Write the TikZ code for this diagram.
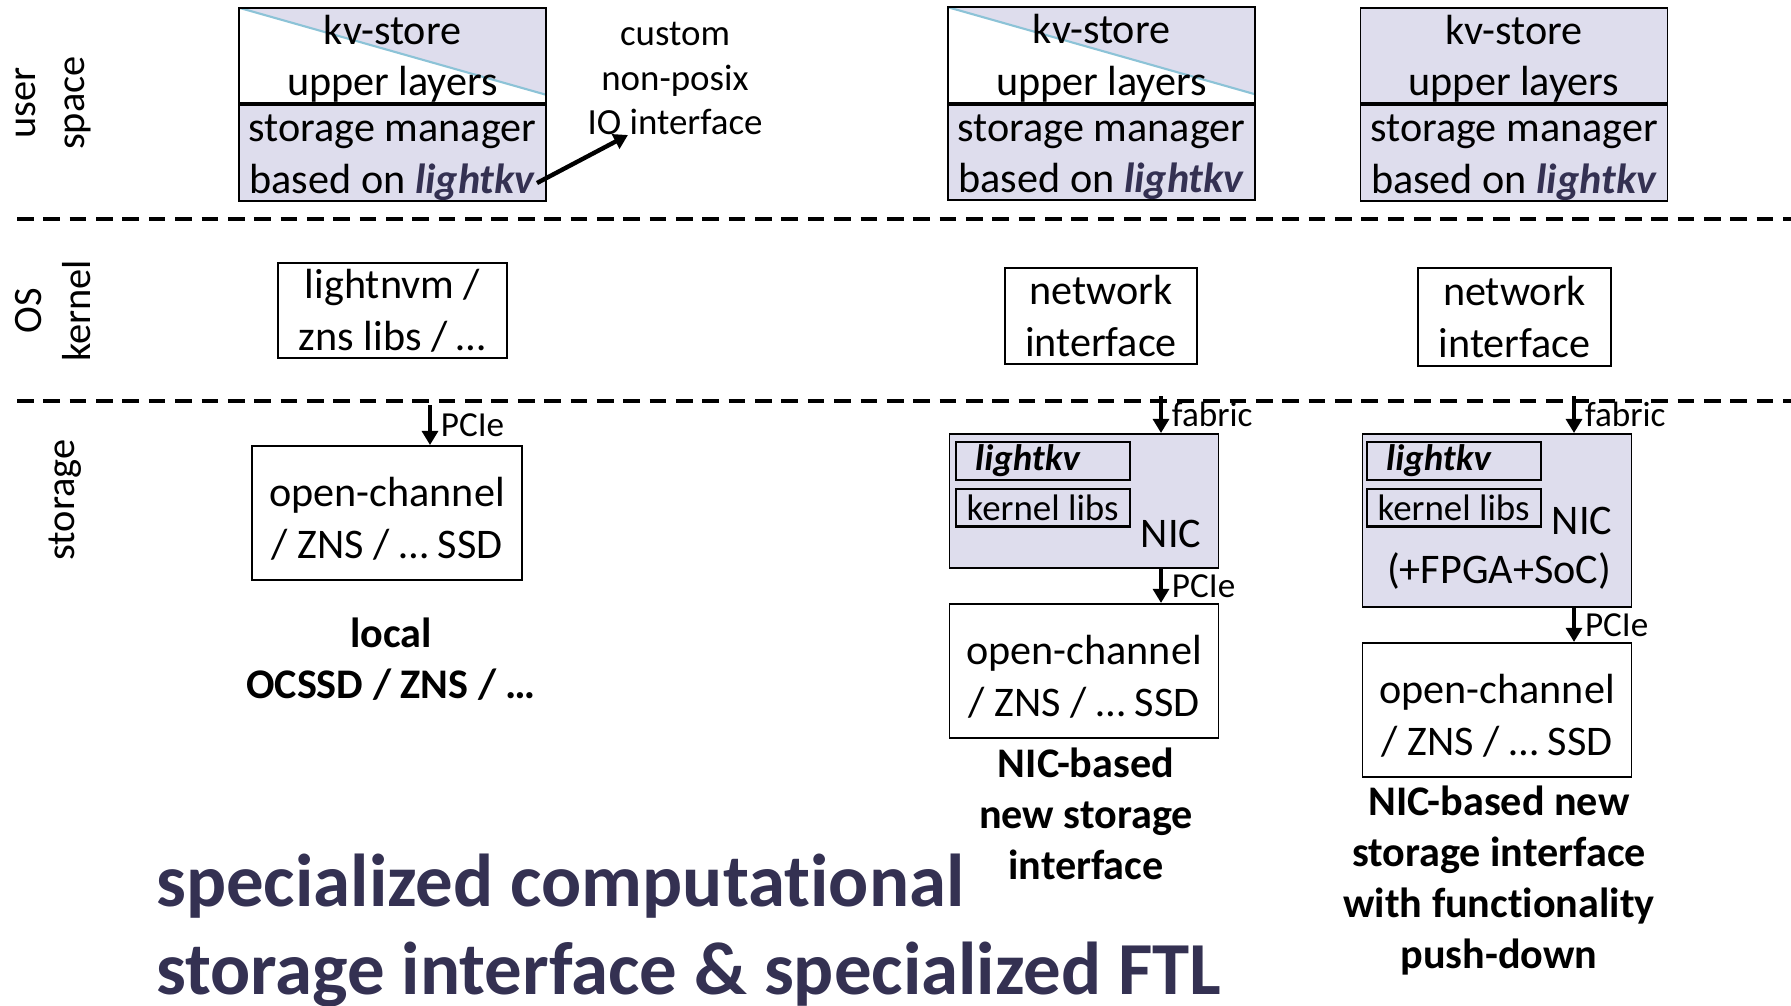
\documentclass[tikz,border=0pt]{standalone}
\usepackage{fontspec}
\setmainfont{Carlito}[Ligatures=NoCommon]
\usetikzlibrary{positioning,calc,arrows.meta}
\definecolor{lav}{RGB}{222,221,237}
\definecolor{ink}{RGB}{52,49,82}
\definecolor{diag}{RGB}{140,195,215}
\newcommand{\lkv}{\textcolor{ink}{\textbf{\textit{lightkv}}}}

\begin{document}
\begin{tikzpicture}[auto,
   >={Triangle[length=8pt,width=9pt]},
   every node/.style={font=\fontsize{24}{29.5}\selectfont},
   box/.style={draw,line width=1.1pt,align=center,inner sep=0pt},
   layer/.style={box,fill=lav,minimum width=6.14cm,minimum height=1.91cm,
      text height=47pt,text depth=1pt},
   cut/.style={path picture={
      \fill[white] (path picture bounding box.north west)
         -- ($(path picture bounding box.south east)+(0,0.17)$)
         -- (path picture bounding box.south east)
         -- (path picture bounding box.south west) -- cycle;
      \draw[diag,line width=1.2pt] (path picture bounding box.north west)
         -- ($(path picture bounding box.south east)+(0,0.17)$);}},
   ssd/.style={box,minimum width=5.38cm,minimum height=2.68cm,
      text height=53pt,text depth=1pt},
   nic/.style={box,fill=lav,minimum width=5.38cm},
   sub/.style={box,line width=1.3pt,minimum width=3.48cm,minimum height=0.75cm,
      font=\fontsize{21}{25}\selectfont},
   side/.style={align=center,rotate=90,font=\fontsize{23}{28}\selectfont},
   tag/.style={font=\fontsize{20}{24}\selectfont,inner sep=2.5pt,xshift=2.5pt},
   caption/.style={align=center,font=\fontsize{24}{29}\selectfont\bfseries},
   link/.style={->,line width=2.5pt},
   sep/.style={line width=2.2pt,dash pattern=on 9.5pt off 5.5pt}]

   \useasboundingbox (0,0) rectangle (35.82,-20.12);

   % layer separators
   \draw[sep] (0.34,-4.38) -- (35.82,-4.38);
   \draw[sep] (0.34,-8.02) -- (35.82,-8.02);
   \node[side] (user)  at (1.07,-2.06)  {user\\space};
   \node[side] (os)    at (1.06,-6.22)  {OS\\kernel};
   \node[side] (store) at (1.31,-10.00) {storage};

   % local OCSSD
   \node[layer,cut] (kvA) at (7.85,-1.11) {kv-store\\upper layers};
   \node[layer] (smA) [below=0pt of kvA] {storage manager\\based on \lkv};
   \node[align=center,inner sep=0pt,font=\fontsize{21}{25.5}\selectfont] (ioTxt)
      at (13.5,-1.57) {custom\\non-posix\\IO interface};
   \node[box,minimum width=4.58cm,minimum height=1.90cm] (nvm) at (7.85,-6.21)
      {lightnvm /\\zns libs / \dots};
   \node[ssd,minimum width=5.40cm] (ssdA) at (7.74,-10.26) {open-channel\\/ ZNS / \dots\ SSD};
   \node[caption] (capA) at (7.82,-13.18) {local\\OCSSD / ZNS / \dots};

   % NIC-based
   \node[layer,cut] (kvB) at (22.03,-1.10) {kv-store\\upper layers};
   \node[layer] (smB) [below=0pt of kvB] {storage manager\\based on \lkv};
   \node[box,minimum width=3.84cm,minimum height=1.92cm] (netA) at (22.02,-6.32)
      {network\\interface};
   \node[nic,minimum height=2.68cm] (nicA) at (21.68,-10.02) {};
   \node[sub,text width=2.7cm,align=left] (lkvA)
      [below right=0.16cm and 0.12cm of nicA.north west] {\textbf{\textit{lightkv}}};
   \node[sub] (klA) [below=0.14cm of lkvA] {kernel libs};
   \node (nicAtxt) [above left=0.3cm and 0.24cm of nicA.south east] {NIC};
   \node[ssd] (ssdB) [below=0.68cm of nicA] {open-channel\\/ ZNS / \dots\ SSD};
   \node[caption] (capB) at (21.72,-16.28) {NIC-based\\new storage\\interface};

   % NIC-based with push-down
   \node[layer] (kvC) at (30.28,-1.11) {kv-store\\upper layers};
   \node[layer] (smC) [below=0pt of kvC] {storage manager\\based on \lkv};
   \node[box,minimum width=3.86cm,minimum height=1.96cm] (netB) at (30.29,-6.34)
      {network\\interface};
   \node[nic,minimum height=3.46cm] (nicB) at (29.94,-10.41) {};
   \node[sub,text width=2.7cm,align=left] (lkvB)
      [below right=0.16cm and 0.08cm of nicB.north west] {\textbf{\textit{lightkv}}};
   \node[sub] (klB) [below=0.14cm of lkvB] {kernel libs};
   \node (nicBtxt) at (31.64,-10.42) {NIC};
   \node (fpga) at (29.98,-11.42) {(+FPGA+SoC)};
   \node[ssd] (ssdC) [below=0.68cm of nicB] {open-channel\\/ ZNS / \dots\ SSD};
   \node[caption] (capC) at (29.98,-17.61)
      {NIC-based new\\storage interface\\with functionality\\push-down};

   % title
   \node[anchor=west,align=left,text=ink,font=\fontsize{42.6}{50}\selectfont\bfseries]
      (title) at (3.0,-18.61)
      {specialized computational\\storage interface \& specialized FTL};

   % arrows
   \coordinate (ioFrom) at (10.74,-3.66);
   \coordinate (ioTo)   at (12.56,-2.70);
   \coordinate (pA) at (8.60,-8.10);
   \coordinate (fA) at (23.22,-7.92);
   \coordinate (fB) at (31.48,-7.92);
   \path[link]
      (ioFrom) edge (ioTo)
      (pA) edge node[tag] {PCIe} (ssdA.north -| pA)
      (fA) edge node[tag] {fabric} (nicA.north -| fA)
      (nicA.south -| fA) edge node[tag] {PCIe} (ssdB.north -| fA)
      (fB) edge node[tag] {fabric} (nicB.north -| fB)
      (nicB.south -| fB) edge node[tag] {PCIe} (ssdC.north -| fB)
      ;
\end{tikzpicture}
\end{document}
